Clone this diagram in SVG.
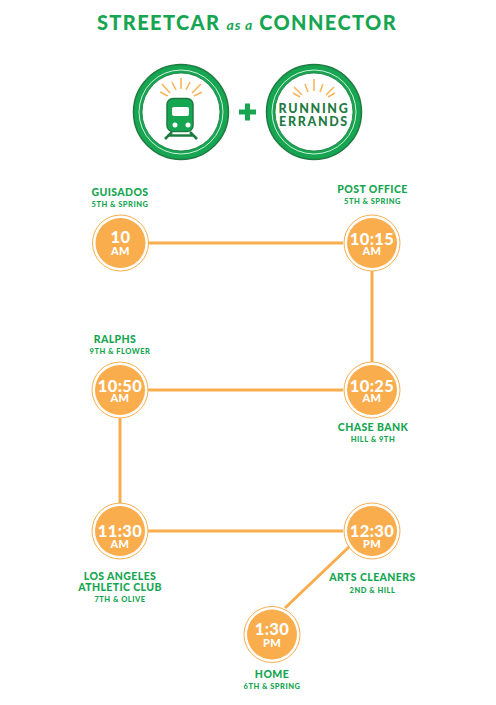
<svg xmlns="http://www.w3.org/2000/svg" width="496" height="705" viewBox="0 0 496 705">
<style>
text{font-family:"Lato","Liberation Sans",sans-serif;text-anchor:middle}
.n{font-size:10.500px;font-weight:900;fill:#16a651;letter-spacing:.4px}
.s{font-size:7.500px;font-weight:900;fill:#16a651;letter-spacing:.5px}
.t{font-size:16.500px;font-weight:900;fill:#fff;letter-spacing:.4px}
.m{font-size:11px;font-weight:900;fill:#fff;letter-spacing:.4px}
.o{fill:#fff;stroke:#f9ad4d;stroke-width:1}
.i{fill:#f9ad4d}
.l{stroke:#f9ad4d;stroke-width:3;fill:none}
.g{stroke:#f9b65c;stroke-width:1.600;fill:none}
.e{font-size:12.500px;font-weight:900;fill:#1f7a42;letter-spacing:1.650px}
</style>
<text x="247" y="30" style="font-size:20px;font-weight:900;fill:#16a651;letter-spacing:1.400px">STREETCAR <tspan style="font-size:14px;font-style:italic;letter-spacing:.8px;font-weight:700">as a</tspan> CONNECTOR</text>
<g id="connectors">
<path class="l" d="M149 243H343M372 271V362M148 390H343M120 418V508M148 531H343M285 608L350 546"/>
</g>
<g id="badge-streetcar">
<circle cx="181" cy="112" r="47.500" fill="#16a651" stroke="#1f7a42" stroke-width="1.500"/>
<circle cx="181" cy="112" r="42" fill="none" stroke="#fff" stroke-width=".8"/>
<circle cx="181" cy="112" r="39" fill="#fff" stroke="#1f7a42" stroke-width=".8"/>
<path class="g" d="M181 78V89M172 82L176 90M190 82L186 90M162 84L170 93M201 84L192 93M160 92L168 96M202 92L194 96"/>
<path d="M172 132L165 139M190 132L197 139M169 135.500H193" stroke="#1f7a42" stroke-width="2.500" fill="none"/>
<rect x="167" y="98.500" width="26" height="33" rx="6" fill="#16a651" stroke="#1f7a42" stroke-width="1.500"/>
<rect x="172" y="107" width="17" height="9" rx="2" fill="#fff"/>
<circle cx="175" cy="125" r="2.500" fill="#fff"/><circle cx="188" cy="125" r="2.500" fill="#fff"/>
</g>
<g id="plus"><path d="M247.500 103.500V120.500M239 112H256" stroke="#16a651" stroke-width="5" fill="none"/></g>
<g id="badge-errands">
<circle cx="314" cy="112" r="47.500" fill="#16a651" stroke="#1f7a42" stroke-width="1.500"/>
<circle cx="314" cy="112" r="42" fill="none" stroke="#fff" stroke-width=".8"/>
<circle cx="314" cy="112" r="39" fill="#fff" stroke="#1f7a42" stroke-width=".8"/>
<path class="g" d="M314 79V91M305 84L308 92M323 84L320 92M294 87L302 95M334 87L326 95M293 93L300 97M335 93L328 97"/>
<text class="e" x="314" y="112.500">RUNNING</text>
<text class="e" x="314" y="125.500">ERRANDS</text>
</g>
<g id="n1"><circle class="o" cx="120.500" cy="243" r="28"/><circle class="i" cx="120.500" cy="243" r="25"/><text class="t" x="120.500" y="243">10</text><text class="m" x="120.500" y="255">AM</text><text class="n" x="120" y="196">GUISADOS</text><text class="s" x="120" y="207">5TH &amp; SPRING</text></g>
<g id="n2"><circle class="o" cx="372" cy="243" r="28"/><circle class="i" cx="372" cy="243" r="25"/><text class="t" x="372" y="245">10:15</text><text class="m" x="372" y="255">AM</text><text class="n" x="372.500" y="192.500">POST OFFICE</text><text class="s" x="372.500" y="204">5TH &amp; SPRING</text></g>
<g id="n3"><circle class="o" cx="372" cy="390" r="28"/><circle class="i" cx="372" cy="390" r="25"/><text class="t" x="372" y="392">10:25</text><text class="m" x="372" y="402">AM</text><text class="n" x="373" y="431">CHASE BANK</text><text class="s" x="373" y="442">HILL &amp; 9TH</text></g>
<g id="n4"><circle class="o" cx="120" cy="390" r="28"/><circle class="i" cx="120" cy="390" r="25"/><text class="t" x="120" y="392">10:50</text><text class="m" x="120" y="402">AM</text><text class="n" x="115" y="343">RALPHS</text><text class="s" x="120" y="354">9TH &amp; FLOWER</text></g>
<g id="n5"><circle class="o" cx="120" cy="531" r="28"/><circle class="i" cx="120" cy="531" r="25"/><text class="t" x="120" y="536.500">11:30</text><text class="m" x="120" y="548">AM</text><text class="n" x="120" y="580">LOS ANGELES</text><text class="n" x="120" y="591">ATHLETIC CLUB</text><text class="s" x="120" y="602">7TH &amp; OLIVE</text></g>
<g id="n6"><circle class="o" cx="372" cy="531" r="28"/><circle class="i" cx="372" cy="531" r="25"/><text class="t" x="372" y="536.500">12:30</text><text class="m" x="372" y="548">PM</text><text class="n" x="372.500" y="581">ARTS CLEANERS</text><text class="s" x="372.500" y="593">2ND &amp; HILL</text></g>
<g id="n7"><circle class="o" cx="272" cy="634.500" r="28"/><circle class="i" cx="272" cy="634.500" r="25"/><text class="t" x="272" y="635">1:30</text><text class="m" x="272" y="647">PM</text><text class="n" x="272" y="678">HOME</text><text class="s" x="272" y="689">6TH &amp; SPRING</text></g>
</svg>
